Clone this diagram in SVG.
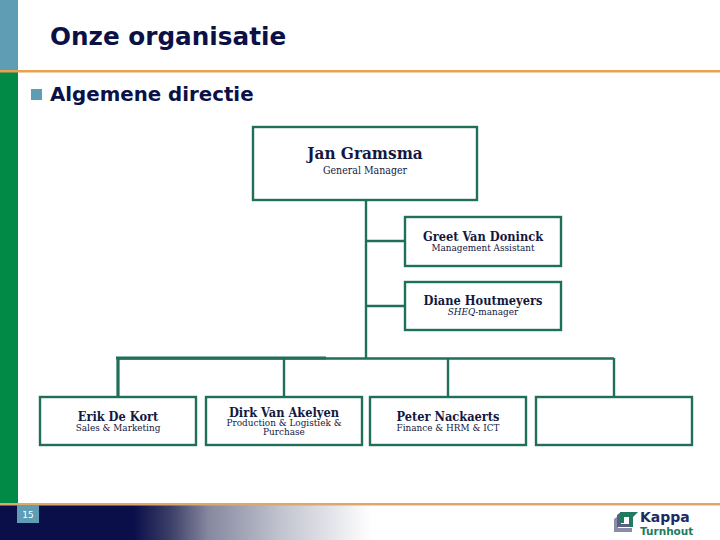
<svg xmlns="http://www.w3.org/2000/svg" width="720" height="540" viewBox="0 0 720 540">
<style>
.box{fill:#fff;stroke:#1f6f5a;stroke-width:2.4}
.ln{fill:none;stroke:#1f6f5a;stroke-width:2.4}
.h{font-family:"DejaVu Sans",Verdana,sans-serif;font-weight:bold;fill:#0b1147}
.n{font-family:"DejaVu Serif Condensed","DejaVu Serif",serif;font-weight:bold;fill:#14183f;text-anchor:middle}
.s{font-family:"DejaVu Serif Condensed","DejaVu Serif",serif;fill:#14183f;text-anchor:middle;font-size:9.900px}
</style>
<defs>
<linearGradient id="fade" x1="0" y1="0" x2="1" y2="0">
<stop offset="0" stop-color="#0a0f4a"/>
<stop offset="0.36" stop-color="#0a0f4a"/>
<stop offset="0.46" stop-color="#3d4068"/>
<stop offset="0.56" stop-color="#85889f"/>
<stop offset="0.75" stop-color="#c0c2ce"/>
<stop offset="1" stop-color="#fff"/>
</linearGradient>
</defs>
<rect width="720" height="540" fill="#fff"/>
<rect x="0" y="0" width="18" height="71" fill="#5f9db5"/>
<rect x="0" y="71" width="18" height="433" fill="#008a45"/>
<rect x="0" y="505" width="372" height="35" fill="url(#fade)"/>
<rect x="0" y="70" width="720" height="2.500" fill="#e8a052"/>
<rect x="0" y="503" width="720" height="2.500" fill="#e0a868"/>
<text class="h" x="50" y="45" font-size="24.700">Onze organisatie</text>
<rect x="31" y="89" width="11" height="11" fill="#5f9db5"/>
<text class="h" x="50" y="101" font-size="19.800">Algemene directie</text>
<g id="connectors">
<path class="ln" d="M366 200V358M366 241H405M366 306H405M118 358.500H614M284 358V398M448 358V398M614 358V398"/>
<path class="ln" style="stroke-width:3.200" d="M116 358H326M118 358V398"/>
</g>
<g id="n1"><rect class="box" x="253" y="127" width="224" height="73"/><text class="n" x="365" y="159" font-size="17">Jan Gramsma</text><text class="s" x="365" y="174" style="font-size:10.500px">General Manager</text></g>
<g id="n2"><rect class="box" x="405" y="217" width="156" height="49"/><text class="n" x="483" y="241" font-size="12.700">Greet Van Doninck</text><text class="s" x="483" y="251">Management Assistant</text></g>
<g id="n3"><rect class="box" x="405" y="282" width="156" height="48"/><text class="n" x="483" y="305" font-size="12.700">Diane Houtmeyers</text><text class="s" x="483" y="315"><tspan font-style="italic">SHEQ</tspan>-manager</text></g>
<g id="n4"><rect class="box" x="40" y="397" width="156" height="48"/><text class="n" x="118" y="421" font-size="12.700">Erik De Kort</text><text class="s" x="118" y="431">Sales &amp; Marketing</text></g>
<g id="n5"><rect class="box" x="206" y="397" width="156" height="48"/><text class="n" x="284" y="417" font-size="12.700">Dirk Van Akelyen</text><text class="s" x="284" y="426">Production &amp; Logistiek &amp;</text><text class="s" x="284" y="435">Purchase</text></g>
<g id="n6"><rect class="box" x="370" y="397" width="156" height="48"/><text class="n" x="448" y="421" font-size="12.700">Peter Nackaerts</text><text class="s" x="448" y="431">Finance &amp; HRM &amp; ICT</text></g>
<g id="n7"><rect class="box" x="536" y="397" width="156" height="48"/></g>
<rect x="17" y="505" width="22" height="18" fill="#5f9db5"/>
<text x="28" y="518" font-family="DejaVu Sans,sans-serif" font-size="9" fill="#fff" text-anchor="middle">15</text>
<path d="M614 532V519L618 516V528H632V532Z" fill="#8a8da8"/>
<path d="M617 527V515L621 512V524H631V527Z" fill="#5b5f85"/>
<path d="M620 512H638L633 517V527H629V517H624V523H620Z" fill="#1f7a5e"/>
<text x="640" y="522" font-family="DejaVu Sans,sans-serif" font-weight="bold" font-size="14" fill="#1d2a66">Kappa</text>
<text x="640" y="535" font-family="DejaVu Sans,sans-serif" font-weight="bold" font-size="10.500" fill="#1f7a5e">Turnhout</text>
</svg>
